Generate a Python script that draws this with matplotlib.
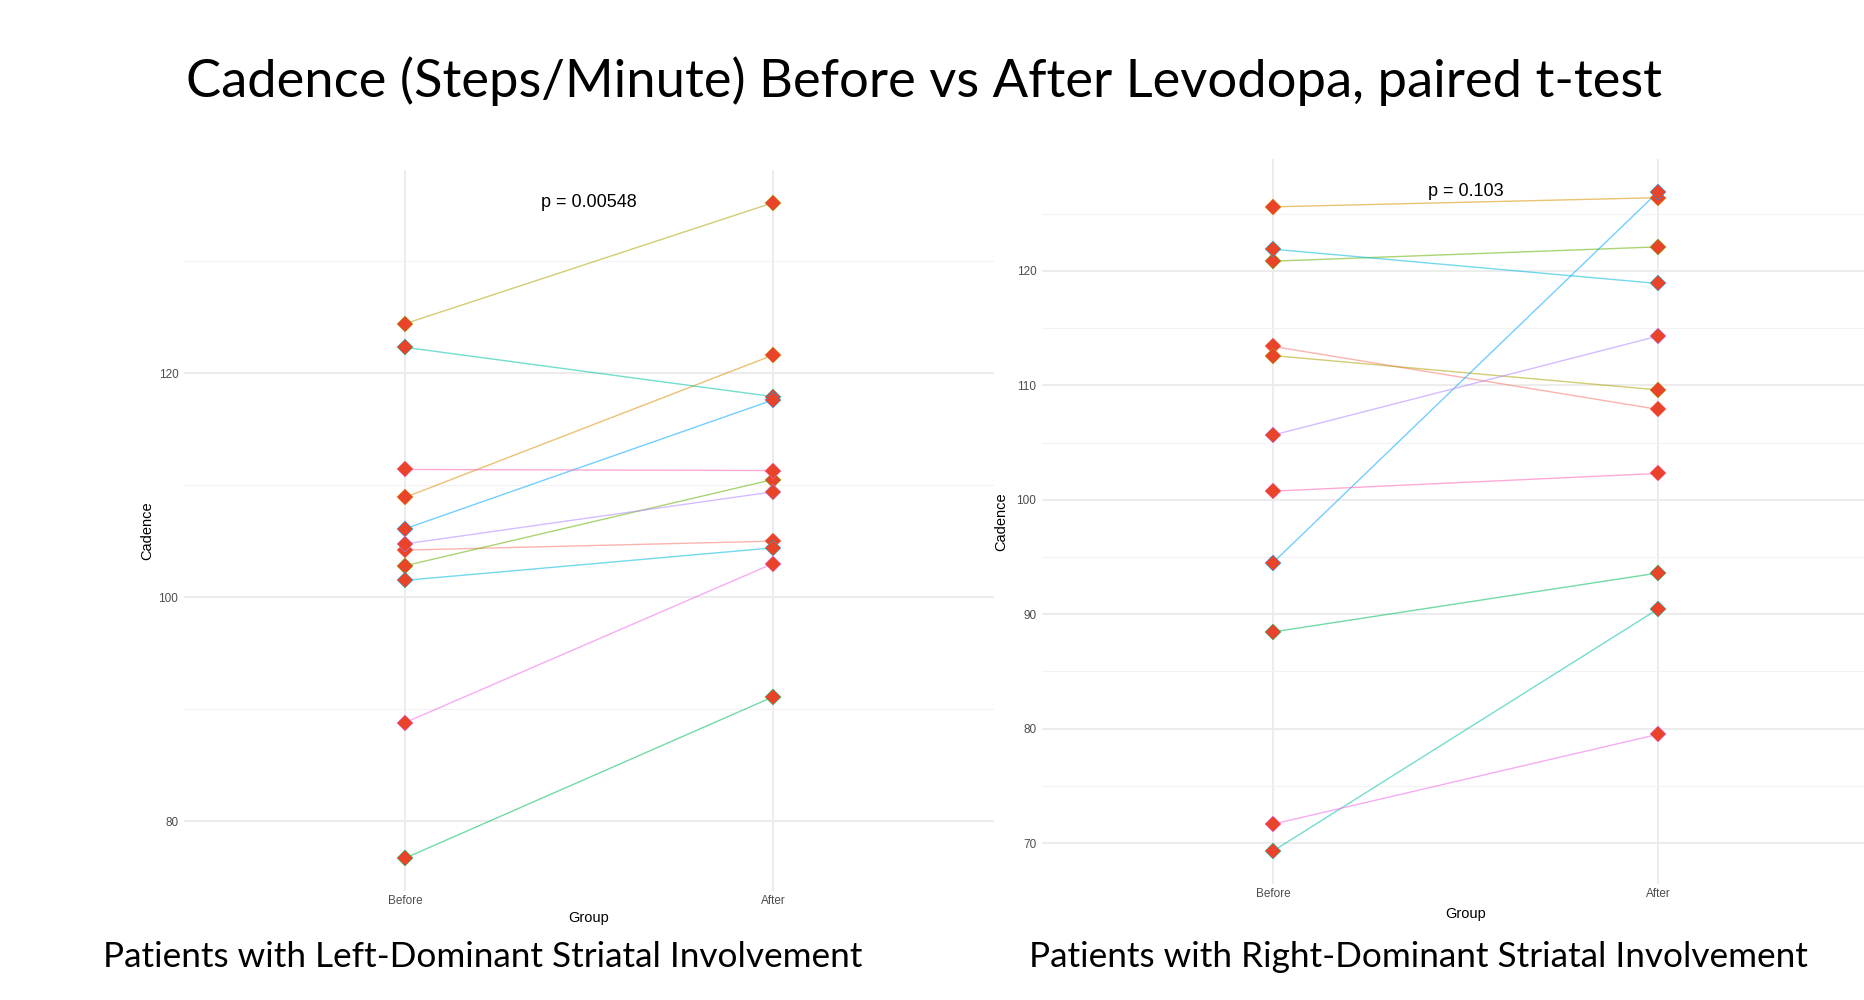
import matplotlib
matplotlib.use('Agg')
import matplotlib.pyplot as plt

plt.rcParams['font.family'] = ['Liberation Sans', 'DejaVu Sans']

# cadence per patient, ordered as the ggplot hue palette
groups = ['Before', 'After']
left_before = [104.2, 108.9, 124.4, 102.8, 76.7, 122.3, 101.5, 106.1, 104.75, 88.8, 111.4]
left_after = [105.0, 121.6, 135.2, 110.5, 91.1, 117.9, 104.4, 117.6, 109.4, 103.0, 111.3]
right_before = [113.4, 125.6, 112.6, 120.85, 88.45, 69.3, 121.9, 94.5, 105.65, 71.65, 100.75]
right_after = [107.9, 126.4, 109.6, 122.1, 93.6, 90.45, 118.9, 126.9, 114.3, 79.5, 102.3]
left_p = 'p = 0.00548'
right_p = 'p = 0.103'

palette = ['#F8766D', '#DB8E00', '#AEA200', '#64B200', '#00BD5C', '#00C1A7',
           '#00BADE', '#00A6FF', '#B385FF', '#EF67EB', '#FF63B6']

fig = plt.figure(figsize=(18.64, 10), dpi=100)
fig.patch.set_facecolor('white')

def draw_panel(rect, before, after, ptext, major, minor, labx, grpy):
    ax = fig.add_axes(rect)
    ax.set_facecolor('white')
    for i in range(len(before)):
        c = palette[i]
        ax.plot([1, 2], [before[i], after[i]], color=c, alpha=0.55, linewidth=1.0, zorder=2)
        ax.plot([1, 2], [before[i], after[i]], linestyle='none', marker='D', markersize=8.5,
                markerfacecolor='#E9432A', markeredgecolor=c, markeredgewidth=0.35, zorder=3)
    allv = before + after
    lo, hi = min(allv), max(allv)
    pad = (hi - lo) * 0.05
    ax.set_ylim(lo - pad, hi + pad)
    ax.set_xlim(0.4, 2.6)
    ax.set_xticks([1, 2])
    ax.set_xticklabels(groups)
    ax.set_yticks(major)
    ax.set_yticks(minor, minor=True)
    ax.grid(True, which='major', color='#EBEBEB', linewidth=1.3, zorder=0)
    ax.grid(True, which='minor', axis='y', color='#F2F2F2', linewidth=0.8, zorder=0)
    ax.set_axisbelow(True)
    for s in ax.spines.values():
        s.set_visible(False)
    ax.tick_params(which='both', length=0, labelsize=8.5, labelcolor='#4D4D4D', pad=4)
    ax.tick_params(axis='x', pad=3)
    ax.set_xlabel('Group', fontsize=10.5, color='black')
    ax.xaxis.set_label_coords(0.5, grpy)
    ax.set_ylabel('Cadence', fontsize=10.5, color='black')
    ax.yaxis.set_label_coords(labx, 0.5)
    ax.text(1.5, hi, ptext, ha='center', va='center', fontsize=13, color='black')
    return ax

draw_panel([0.0987, 0.109, 0.4345, 0.721], left_before, left_after, left_p,
           [80, 100, 120], [90, 110, 130], -0.037, -0.028)
draw_panel([0.559, 0.116, 0.4544, 0.725], right_before, right_after, right_p,
           [70, 80, 90, 100, 110, 120], [75, 85, 95, 105, 115, 125], -0.040, -0.032)

fig.text(0.4957, 0.919, 'Cadence (Steps/Minute) Before vs After Levodopa, paired t-test',
         ha='center', va='center', fontsize=37.8, family='Lato', color='black')
fig.text(0.259, 0.043, 'Patients with Left-Dominant Striatal Involvement',
         ha='center', va='center', fontsize=25.3, family='Lato', color='black')
fig.text(0.761, 0.043, 'Patients with Right-Dominant Striatal Involvement',
         ha='center', va='center', fontsize=25.3, family='Lato', color='black')

fig.savefig('out.png', dpi=100)
